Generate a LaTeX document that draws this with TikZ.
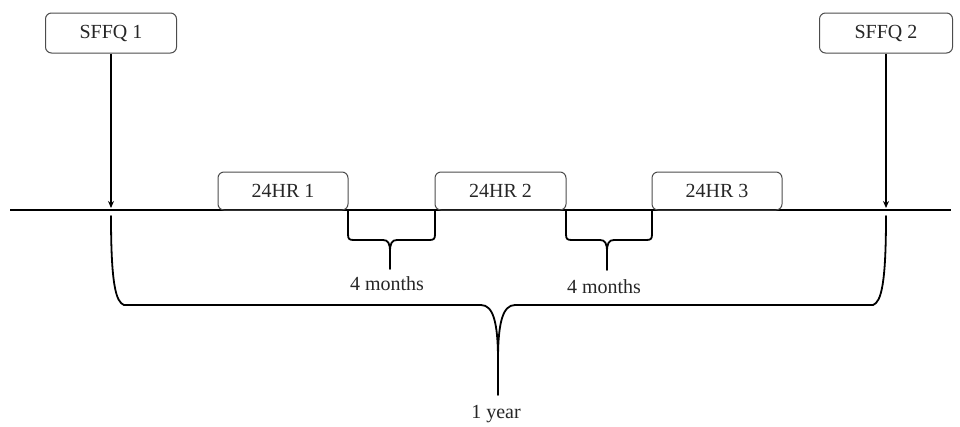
\documentclass[tikz,border=0pt]{standalone}
\usepackage{fontspec}
\setmainfont{Liberation Serif}
\usetikzlibrary{arrows.meta}
\begin{document}
\begin{tikzpicture}[x=1pt,y=-1pt,
  box/.style={draw=black!70, line width=1pt, rounded corners=6pt, inner sep=0pt,
    font=\fontsize{20}{24}\selectfont, text=black!85},
  lbl/.style={inner sep=0pt, font=\fontsize{20}{24}\selectfont, text=black!85},
  brace/.style={line width=1.8pt, line join=round, line cap=round},
  arr/.style={line width=1.5pt, -{Stealth[length=7pt,width=6pt]}}]
\useasboundingbox (0,0) rectangle (960,426);
% timeline
\coordinate (L) at (10,210);
\coordinate (R) at (951,210);
\draw[line width=2pt] (L) -- (R);
% SFFQ boxes
\node[box, minimum width=131pt, minimum height=40pt] (s1) at (111,33) {SFFQ 1};
\node[box, minimum width=133pt, minimum height=40pt] (s2) at (886,33) {SFFQ 2};
\coordinate (a1) at (111,208);
\coordinate (a2) at (886,208);
\draw[arr] (s1.south) -- (a1);
\draw[arr] (s2.south) -- (a2);
% 24HR boxes
\node[box, minimum width=130pt, minimum height=38pt] (h1) at (283,191) {24HR 1};
\node[box, minimum width=131pt, minimum height=38pt] (h2) at (500.5,191) {24HR 2};
\node[box, minimum width=130pt, minimum height=38pt] (h3) at (717,191) {24HR 3};
% small brace 1
\draw[brace] (348,211) -- (348,234) .. controls (348,239) and (349,240) .. (354,240) -- (383,240)
  .. controls (388,240) and (390,243) .. (390,252) -- (390,269);
\draw[brace] (435,211) -- (435,234) .. controls (435,239) and (434,240) .. (429,240) -- (397,240)
  .. controls (392,240) and (390,243) .. (390,252);
% small brace 2
\draw[brace] (566,211) -- (566,234) .. controls (566,239) and (567,240) .. (572,240) -- (600,240)
  .. controls (605,240) and (607,243) .. (607,252) -- (607,270);
\draw[brace] (652,211) -- (652,234) .. controls (652,239) and (651,240) .. (646,240) -- (614,240)
  .. controls (609,240) and (607,243) .. (607,252);
% big brace
\draw[brace] (111,216) .. controls (111,285) and (116,302) .. (124,305) -- (481,305)
  .. controls (493,305) and (498,322) .. (498,360) -- (498,395);
\draw[brace] (886,216) .. controls (886,285) and (881,302) .. (873,305) -- (515,305)
  .. controls (503,305) and (498,322) .. (498,360);
% labels
\node[lbl] (m1) at (387,284) {4 months};
\node[lbl] (m2) at (604,287) {4 months};
\node[lbl] (yr) at (496,414) {1 year};
\end{tikzpicture}
\end{document}
